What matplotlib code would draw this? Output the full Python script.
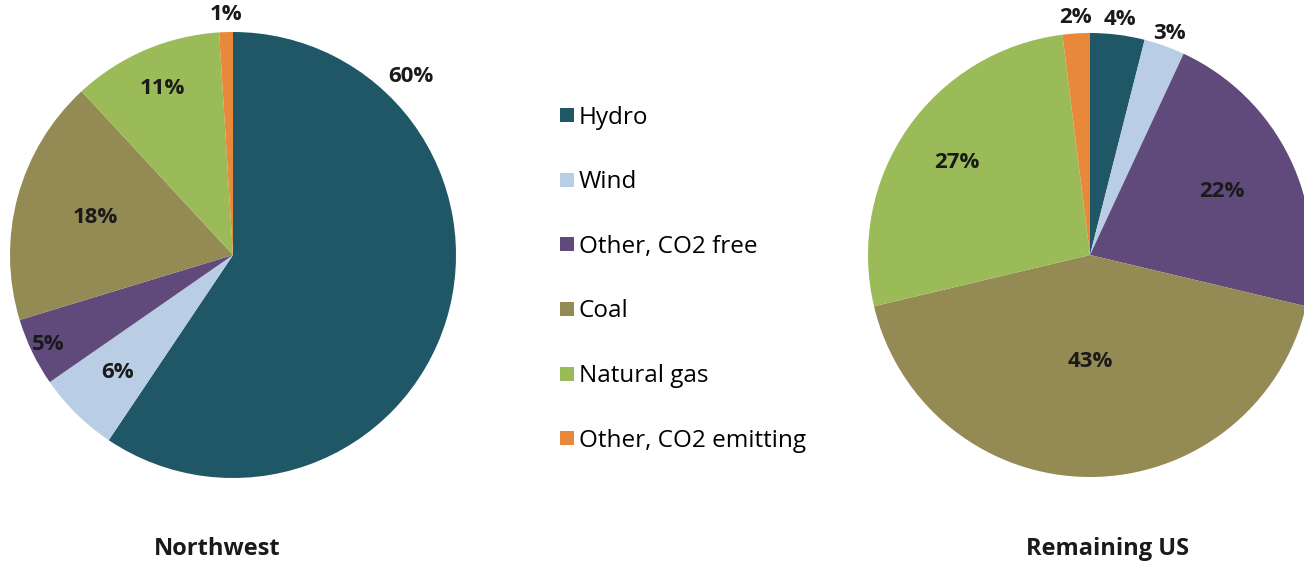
import matplotlib.pyplot as plt
from matplotlib.lines import Line2D
import numpy as np

sources = ["Hydro", "Wind", "Other, CO2 free", "Coal", "Natural gas", "Other, CO2 emitting"]
colors = ["#1f5767", "#b9cde5", "#604a7b", "#948a54", "#9bbb59", "#e8883a"]
northwest = [60, 6, 5, 18, 11, 1]
remaining_us = [4, 3, 22, 43, 27, 2]

# label radius per slice (fraction of pie radius), Excel "best fit" look
nw_label_r = [1.13, 0.74, 0.92, 0.64, 0.81, 1.08]
us_label_r = [1.07, 1.06, 0.66, 0.48, 0.73, 1.07]
nw_label_angle = {0: 45}  # the 60% label sits outside, up right

plt.rcParams['font.family'] = ['Open Sans', 'DejaVu Sans']

W, H = 1304, 561
fig = plt.figure(figsize=(W / 100, H / 100), dpi=100)


def draw_pie(cx, cy, r, values, label_r, angle_override=None):
    ax = fig.add_axes([(cx - r) / W, (H - cy - r) / H, 2 * r / W, 2 * r / H])
    wedges, _ = ax.pie(values, colors=colors, startangle=90, counterclock=False,
                       wedgeprops=dict(linewidth=0))
    ax.set_xlim(-1, 1)
    ax.set_ylim(-1, 1)
    ax.set_aspect('equal')
    ax.axis('off')
    for i, (w, v) in enumerate(zip(wedges, values)):
        ang = (w.theta1 + w.theta2) / 2
        if angle_override and i in angle_override:
            ang = angle_override[i]
        a = np.deg2rad(ang)
        ax.text(label_r[i] * np.cos(a), label_r[i] * np.sin(a), f"{v}%",
                ha='center', va='center', fontsize=16, fontweight='bold',
                color='#1a1a1a', clip_on=False)
    return ax


draw_pie(233, 255, 223, northwest, nw_label_r, nw_label_angle)
draw_pie(1090, 255, 222, remaining_us, us_label_r)

handles = [Line2D([], [], marker='s', linestyle='none', markersize=10,
                  markerfacecolor=c, markeredgewidth=0) for c in colors]
fig.legend(handles, sources, loc='upper left', bbox_to_anchor=(546 / W, 1 - 96 / H),
           frameon=False, fontsize=17.5, labelspacing=1.67, handletextpad=0.05,
           borderaxespad=0, handlelength=0.9)

fig.text(217 / W, 1 - 549 / H, "Northwest", ha='center', va='center',
         fontsize=17, fontweight='bold', color='#1a1a1a')
fig.text(1108 / W, 1 - 549 / H, "Remaining US", ha='center', va='center',
         fontsize=17, fontweight='bold', color='#1a1a1a')

fig.savefig("out.png", dpi=100)
